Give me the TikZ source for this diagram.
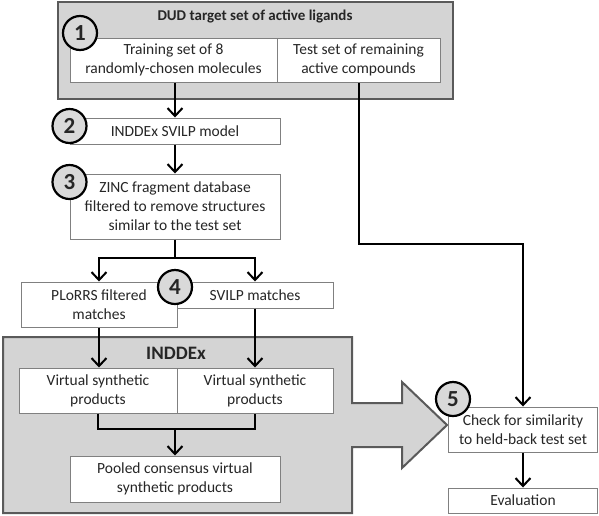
\documentclass[tikz,border=0pt]{standalone}
\usepackage{fontspec}
\setmainfont{Carlito}
\usetikzlibrary{arrows.meta}
\definecolor{boxgray}{HTML}{D4D4D4}
\definecolor{circgray}{HTML}{D9D9D9}
\definecolor{edgegray}{HTML}{5A5A5A}
\definecolor{thin}{HTML}{808080}
\definecolor{txt}{HTML}{262626}
\tikzset{
  wbox/.style={draw=thin, line width=1pt, fill=white, inner sep=0pt, align=center,
    text=txt, font=\fontsize{15.5}{19}\selectfont},
  num/.style={circle, draw=black, line width=2.2pt, fill=circgray, minimum size=34pt,
    inner sep=0pt, font=\bfseries\fontsize{23}{23}\selectfont, text=txt},
  conn/.style={line width=2pt, draw=black},
  arr/.style={conn, -{Straight Barb[length=8pt,width=15pt,line width=2pt]}},
  grayarea/.style={fill=boxgray, draw=edgegray, line width=2pt},
  titl/.style={font=\bfseries\fontsize{15}{18}\selectfont, text=txt}
}
\begin{document}
\begin{tikzpicture}[x=1pt,y=-1pt]
\useasboundingbox (0,0) rectangle (599,515);
% gray areas
\draw[grayarea] (58,2) rectangle (453,99);
\draw[grayarea] (3,337) -- (352,337) -- (352,403) -- (402,403) -- (402,382) -- (447,425)
  -- (402,468) -- (402,447) -- (352,447) -- (352,513) -- (3,513) -- cycle;
\node[titl] (dudtitle) at (255,16) {DUD target set of active ligands};
\node[titl, font=\bfseries\fontsize{19}{21}\selectfont] (inddextitle) at (176,353) {INDDEx};
% boxes
\node[wbox, minimum width=207pt, minimum height=44pt] (train) at (173.5,60) {Training set of 8\\randomly-chosen molecules};
\node[wbox, minimum width=163pt, minimum height=44pt] (test) at (358.5,60) {Test set of remaining\\active compounds};
\node[wbox, minimum width=210pt, minimum height=26pt] (model) at (175,131) {INDDEx SVILP model};
\node[wbox, minimum width=210pt, minimum height=65pt] (zinc) at (175,206.5) {ZINC fragment database\\filtered to remove structures\\similar to the test set};
\node[wbox, minimum width=156pt, minimum height=45pt] (plorrs) at (99,304.5) {PLoRRS filtered\\matches};
\node[wbox, minimum width=156pt, minimum height=26pt] (svilp) at (255,295) {SVILP matches};
\node[wbox, minimum width=158pt, minimum height=45pt] (vs1) at (98,390.5) {Virtual synthetic\\products};
\node[wbox, minimum width=156pt, minimum height=45pt] (vs2) at (255,390.5) {Virtual synthetic\\products};
\node[wbox, minimum width=210pt, minimum height=46pt] (pooled) at (175,479) {Pooled consensus virtual\\synthetic products};
\node[wbox, minimum width=149pt, minimum height=45pt] (check) at (523,429.5) {Check for similarity\\to held-back test set};
\node[wbox, minimum width=149pt, minimum height=25pt] (eval) at (523,500.5) {Evaluation};
% connectors
\draw[arr] (model.north |- train.south) -- (model.north);
\draw[arr] (model.south) -- (zinc.north);
\coordinate (bend) at (358.5,244);
\draw[arr] (test.south) -- (bend) -| (check.north);
\coordinate (split) at (175,258);
\draw[conn] (zinc.south) -- (split);
\draw[arr] (split) -| (plorrs.north);
\draw[arr] (split) -| (svilp.north);
\draw[arr] (plorrs.south) -- (plorrs.south |- vs1.north);
\draw[arr] (svilp.south) -- (vs2.north);
\coordinate (join) at (175,429);
\draw[conn] (vs1.south) -- (vs1.south |- join) -- (vs2.south |- join) -- (vs2.south);
\draw[arr] (join) -- (pooled.north);
\draw[arr] (check.south) -- (eval.north);
% numbered circles
\node[num] (n1) at (80,33) {1};
\node[num] (n2) at (69.5,126) {2};
\node[num] (n3) at (69.5,182) {3};
\node[num] (n4) at (175,287) {4};
\node[num] (n5) at (453,399) {5};
\end{tikzpicture}
\end{document}
